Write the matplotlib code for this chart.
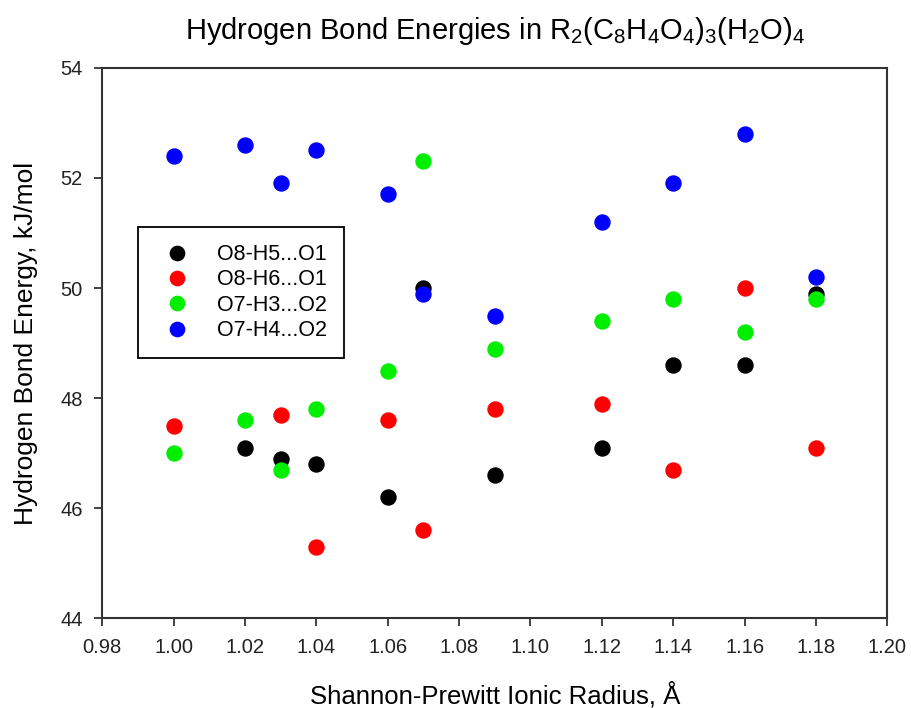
import matplotlib
matplotlib.use('Agg')
import matplotlib.pyplot as plt

plt.rcParams['font.family'] = ['Liberation Sans', 'DejaVu Sans']
plt.rcParams['mathtext.fontset'] = 'custom'
plt.rcParams['mathtext.rm'] = 'Liberation Sans'

# ionic radius (A) and hydrogen bond energies (kJ/mol)
x_h5 = [1.02, 1.03, 1.04, 1.06, 1.07, 1.09, 1.12, 1.14, 1.16, 1.18]
e_h5 = [47.1, 46.9, 46.8, 46.2, 50.0, 46.6, 47.1, 48.6, 48.6, 49.9]

x_h6 = [1.00, 1.03, 1.04, 1.06, 1.07, 1.09, 1.12, 1.14, 1.16, 1.18]
e_h6 = [47.5, 47.7, 45.3, 47.6, 45.6, 47.8, 47.9, 46.7, 50.0, 47.1]

x_h3 = [1.00, 1.02, 1.03, 1.04, 1.06, 1.07, 1.09, 1.12, 1.14, 1.16, 1.18]
e_h3 = [47.0, 47.6, 46.7, 47.8, 48.5, 52.3, 48.9, 49.4, 49.8, 49.2, 49.8]

x_h4 = [1.00, 1.02, 1.03, 1.04, 1.06, 1.07, 1.09, 1.12, 1.14, 1.16, 1.18]
e_h4 = [52.4, 52.6, 51.9, 52.5, 51.7, 49.9, 49.5, 51.2, 51.9, 52.8, 50.2]

labels = ['O8-H5...O1', 'O8-H6...O1', 'O7-H3...O2', 'O7-H4...O2']
colors = ['#000000', '#ff0000', '#00ee00', '#0000ff']

fig = plt.figure(figsize=(9.12, 7.08), dpi=100)
ax = fig.add_axes([0.112, 0.127, 0.861, 0.777])

series = [(x_h5, e_h5), (x_h6, e_h6), (x_h3, e_h3), (x_h4, e_h4)]
for (xs, ys), lab, c in zip(series, labels, colors):
    ax.plot(xs, ys, linestyle='none', marker='o', markersize=10.8,
            color=c, label=lab)

ax.set_xlim(0.98, 1.20)
ax.set_ylim(44, 54)
ax.set_xticks([0.98 + 0.02 * i for i in range(12)])
ax.set_xticklabels(['%.2f' % (0.98 + 0.02 * i) for i in range(12)])
ax.set_yticks([44, 46, 48, 50, 52, 54])
ax.tick_params(direction='out', length=6, width=1.2, labelsize=14.5, pad=8,
               colors='#222222')
for sp in ax.spines.values():
    sp.set_linewidth(1.5)
    sp.set_color('#333333')

ax.set_xlabel('Shannon-Prewitt Ionic Radius, Å', fontsize=18.5, labelpad=18)
ax.set_ylabel('Hydrogen Bond Energy, kJ/mol', fontsize=19, labelpad=16)
ax.set_title(r'Hydrogen Bond Energies in R$_2$(C$_8$H$_4$O$_4$)$_3$(H$_2$O)$_4$',
             fontsize=21, pad=21)

leg = ax.legend(loc='upper left', bbox_to_anchor=(0.046, 0.711), fontsize=15.5,
                fancybox=False, edgecolor='black', framealpha=1,
                borderpad=0.8, handletextpad=0.85, labelspacing=0.2,
                borderaxespad=0, markerscale=0.95)
leg.get_frame().set_linewidth(1.3)

fig.savefig('out.png', dpi=100)
